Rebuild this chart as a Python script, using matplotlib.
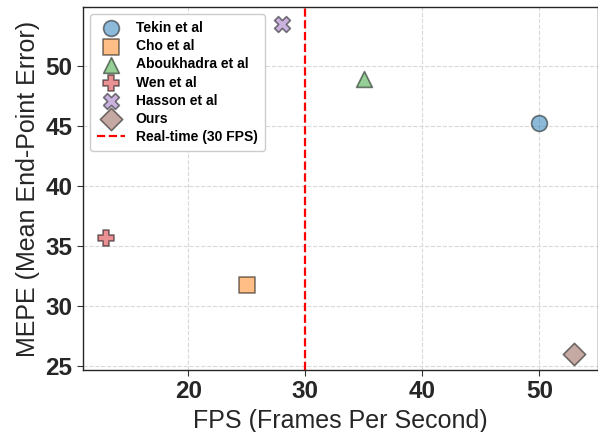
import matplotlib
matplotlib.use("Agg")
import matplotlib.pyplot as plt

methods = ["Tekin et al", "Cho et al", "Aboukhadra et al", "Wen et al", "Hasson et al", "Ours"]
fps = [50, 25, 35, 13, 28, 53]
mepe = [45.2, 31.7, 48.9, 35.6, 53.5, 26.0]
markers = ["o", "s", "^", "P", "X", "D"]
colors = ["tab:blue", "tab:orange", "tab:green", "tab:red", "tab:purple", "tab:brown"]
realtime_fps = 30
xticks = [20, 30, 40, 50]
yticks = [25, 30, 35, 40, 45, 50]

plt.rcParams['font.family'] = ['Liberation Sans', 'DejaVu Sans']

fig = plt.figure(figsize=(5.98, 4.32), dpi=100)
ax = fig.add_axes([0.1388, 0.1435, 0.861, 0.840])

for m, x, y, mk, c in zip(methods, fps, mepe, markers, colors):
    ax.scatter(x, y, s=130, marker=mk, color=c, alpha=0.5, edgecolors='black',
               linewidths=1.2, label=m, zorder=3)

ax.axvline(realtime_fps, color='red', linestyle='--', linewidth=1.6, label='Real-time (30 FPS)', zorder=2)

ax.set_xticks(xticks)
ax.set_yticks(yticks)
ax.grid(True, linestyle='--', color='#d9d9d9', linewidth=0.8, zorder=0)
ax.set_axisbelow(True)

for lbl in ax.get_xticklabels() + ax.get_yticklabels():
    lbl.set_fontweight('bold')
ax.tick_params(axis='both', labelsize=17.5, length=4, color='#333333', labelcolor='#262626')
ax.set_xlabel('FPS (Frames Per Second)', fontsize=18, color='#262626')
ax.set_ylabel('MEPE (Mean End-Point Error)', fontsize=18, color='#262626')
for sp in ax.spines.values():
    sp.set_color('#262626')
    sp.set_linewidth(1.0)

leg = ax.legend(loc='upper left', prop={'weight': 'bold', 'size': 10}, frameon=True,
                fancybox=True, framealpha=1.0, edgecolor='#cccccc', borderpad=0.5,
                labelspacing=0.3, handletextpad=0.8)

fig.savefig('out.png', dpi=100)
